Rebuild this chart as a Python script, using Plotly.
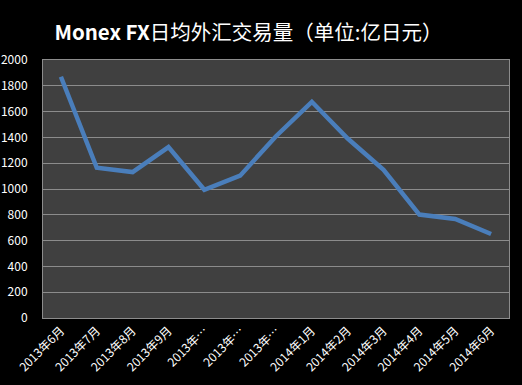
import plotly.graph_objects as go

categories = ["2013年6月", "2013年7月", "2013年8月", "2013年9月", "2013年10月", "2013年11月",
              "2013年12月", "2014年1月", "2014年2月", "2014年3月", "2014年4月", "2014年5月", "2014年6月"]
tick_labels = ["2013年6月", "2013年7月", "2013年8月", "2013年9月", "2013年…", "2013年…",
               "2013年…", "2014年1月", "2014年2月", "2014年3月", "2014年4月", "2014年5月", "2014年6月"]
volume = [1870, 1165, 1131, 1325, 994, 1103, 1409, 1676, 1391, 1149, 802, 768, 651]
y_ticks = list(range(0, 2001, 200))

fig = go.Figure()
fig.add_trace(go.Scatter(
    x=categories, y=volume, mode="lines",
    line=dict(color="#4a7ebb", width=4.5),
    hoverinfo="skip",
))

fig.update_layout(
    width=522, height=385,
    paper_bgcolor="#000000", plot_bgcolor="#404040",
    margin=dict(l=43, r=13, t=60, b=67),
    showlegend=False,
    title=dict(
        text="<b>Monex FX</b>日均外汇交易量（单位:亿日元）",
        x=0.476, xanchor="center", y=0.915, yanchor="middle",
        font=dict(family="Noto Sans CJK SC, Noto Sans, sans-serif", size=20.5, color="#ffffff"),
    ),
    font=dict(family="Noto Sans CJK SC, Noto Sans, sans-serif", color="#ffffff", size=12),
)
fig.update_xaxes(
    type="category", tickvals=categories, ticktext=tick_labels, tickangle=-45,
    tickfont=dict(size=12, color="#ffffff"), automargin=False,
    showgrid=False, showline=True, linecolor="#8c8c8c", linewidth=1, mirror=True,
    ticks="", range=[-0.5, len(categories) - 0.5],
)
fig.update_yaxes(
    range=[0, 2000], tickvals=y_ticks, tickfont=dict(size=12, color="#ffffff"),
    showgrid=True, gridcolor="#8c8c8c", gridwidth=1, automargin=False,
    showline=True, linecolor="#8c8c8c", linewidth=1, mirror=True,
    ticks="", zeroline=False, ticklabelstandoff=12,
)

fig.write_html("out.html")
